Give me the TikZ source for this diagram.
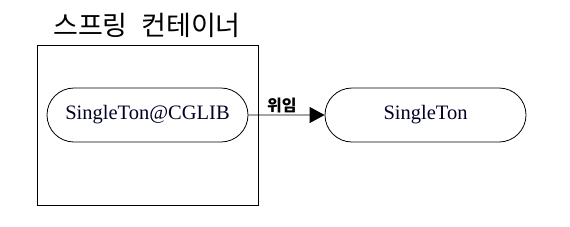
\documentclass[tikz,border=0pt]{standalone}
\usepackage{fontspec}
\setmainfont{Liberation Serif}
\newfontfamily\kr{Noto Sans CJK KR}
\usetikzlibrary{arrows.meta,shapes.misc}
\begin{document}
\begin{tikzpicture}[x=1pt,y=-1pt,
  pill/.style={draw,line width=0.8pt,rounded rectangle,minimum width=201pt,minimum height=54pt,inner sep=0pt,
    font=\fontsize{20.5}{24}\selectfont,text=black!85!blue}]
\useasboundingbox (0,0) rectangle (570,226);
\node[font=\kr\fontsize{27}{30}\selectfont,anchor=center] (title) at (147,25) {스프링\hspace{0.5em}컨테이너};
\draw[line width=0.8pt] (37,45) rectangle (258,205);
\node[pill] (a) at (147.5,115) {SingleTon@CGLIB};
\node[pill] (b) at (425.5,115) {SingleTon};
\draw[line width=0.8pt,-{Triangle[length=15pt,width=16pt]}] (a) -- node[above,font=\kr\bfseries\fontsize{16}{18}\selectfont,pos=0.44,yshift=-1.5pt]{위임} (b);
\end{tikzpicture}
\end{document}
